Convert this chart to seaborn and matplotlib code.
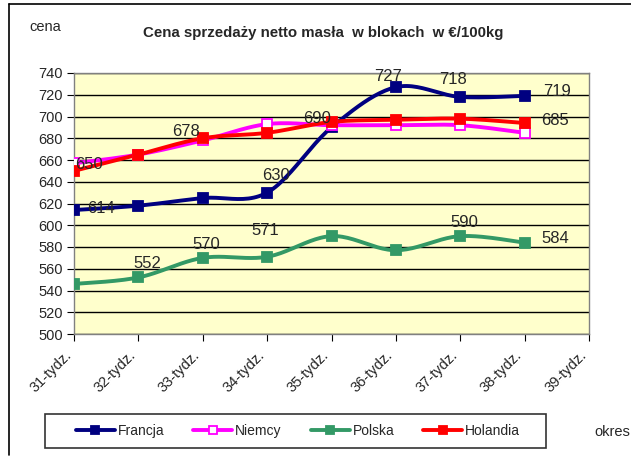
import numpy as np
import pandas as pd
import matplotlib
matplotlib.use("Agg")
import matplotlib.pyplot as plt
import seaborn as sns
from matplotlib.patches import Rectangle

weeks = ["31-tydz.", "32-tydz.", "33-tydz.", "34-tydz.", "35-tydz.",
         "36-tydz.", "37-tydz.", "38-tydz.", "39-tydz."]
francja = [614, 618, 625, 630, 690, 727, 718, 719]
niemcy = [657, 665, 678, 693, 692, 692, 692, 685]
polska = [546, 552, 570, 571, 590, 577, 590, 584]
holandia = [650, 665, 680, 685, 695, 697, 698, 694]

# value labels: index -> (dx px, dy px, ha)
lab_francja = {0: (13, 2, "left"), 3: (9, 17, "center"), 4: (-14, 9, "center"),
               5: (-8, 11, "center"), 6: (-7, 17, "center"), 7: (19, 4, "left")}
lab_niemcy = {2: (-17, 9, "center"), 7: (17, 12, "left")}
lab_polska = {1: (9, 14, "center"), 2: (4, 13, "center"), 3: (-2, 26, "center"),
              6: (4, 14, "center"), 7: (17, 4, "left")}
lab_holandia = {0: (1, 6, "left")}

series = [
    ("Francja", francja, "#000080", "#000080", lab_francja),
    ("Niemcy", niemcy, "#FF00FF", "#FFFFFF", lab_niemcy),
    ("Polska", polska, "#339966", "#339966", lab_polska),
    ("Holandia", holandia, "#FF0000", "#FF0000", lab_holandia),
]


def smooth(xs, ys, n=24):
    # Catmull-Rom path through the points, like Excel's smoothed line
    xs = np.asarray(xs, float)
    ys = np.asarray(ys, float)
    px, py = [], []
    m = len(xs)
    for i in range(m - 1):
        i0, i3 = max(i - 1, 0), min(i + 2, m - 1)
        t = np.linspace(0, 1, n, endpoint=(i == m - 2))
        for arr, out in ((xs, px), (ys, py)):
            p0, p1, p2, p3 = arr[i0], arr[i], arr[i + 1], arr[i3]
            out.extend(0.5 * ((2 * p1) + (-p0 + p2) * t
                              + (2 * p0 - 5 * p1 + 4 * p2 - p3) * t ** 2
                              + (-p0 + 3 * p1 - 3 * p2 + p3) * t ** 3))
    return np.array(px), np.array(py)


sns.set_style("white")
plt.rcParams["font.family"] = ["Liberation Sans", "DejaVu Sans"]

fig = plt.figure(figsize=(6.31, 4.57), dpi=100)
ax = fig.add_axes([74 / 631, 1 - 334 / 457, 515 / 631, 261 / 457])
ax.set_facecolor("#FFFFCC")

x = np.arange(len(francja))
handles = []
for name, vals, col, face, labs in series:
    sx, sy = smooth(x, vals)
    df = pd.DataFrame({"x": sx, "y": sy})
    sns.lineplot(data=df, x="x", y="y", ax=ax, color=col, lw=2.8,
                 sort=False, estimator=None, zorder=3)
    ax.plot(x, vals, ls="none", color=col, marker="s", ms=7,
            mfc=face, mec=col, mew=1.3, zorder=4)
    handles.append(plt.Line2D([], [], color=col, lw=2.8, marker="s", ms=6,
                              mfc=face, mec=col, mew=1.3))
    for i, (dx, dy, ha) in labs.items():
        v = vals[i]
        ax.annotate(str(v), (i, v), xytext=(dx * 0.72, dy * 0.72),
                    textcoords="offset points", ha=ha, va="center",
                    fontsize=12, zorder=6)

ax.set_xlim(0, 8)
ax.set_ylim(500, 740)
ax.set_yticks(np.arange(500, 741, 20))
ax.set_xticks(np.arange(len(weeks)))
ax.set_xticklabels(weeks, rotation=45, ha="right", va="bottom",
                   rotation_mode="anchor", fontsize=10.5)
ax.tick_params(axis="y", labelsize=10.5, length=5, color="black", direction="out",
               left=True, pad=3)
ax.tick_params(axis="x", length=5, color="black", direction="out", bottom=True, pad=12)
ax.grid(axis="y", color="black", lw=1)
ax.set_axisbelow(True)
ax.set_xlabel("")
ax.set_ylabel("")
for s in ax.spines.values():
    s.set_color("#808080")
    s.set_linewidth(1)

fig.text(323 / 631, 1 - 33 / 457, "Cena sprzedaży netto masła  w blokach  w €/100kg",
         ha="center", va="center", fontsize=10.8, fontweight="bold")
fig.text(29 / 631, 1 - 27 / 457, "cena", ha="left", va="center", fontsize=10.5)
fig.text(630 / 631, 1 - 432 / 457, "okres", ha="right", va="center", fontsize=10.5)

# legend box and entries
fig.add_artist(Rectangle((45 / 631, 1 - 448 / 457), 501 / 631, 34 / 457,
                         transform=fig.transFigure, fill=False,
                         edgecolor="#333333", lw=1.2))
leg = fig.legend(handles, [s[0] for s in series], ncol=4, loc="center left",
                 bbox_to_anchor=(76 / 631, 1 - 431 / 457), frameon=False,
                 fontsize=10, handlelength=2.8, handletextpad=0.2,
                 columnspacing=2.1, borderpad=0, borderaxespad=0)

# outer chart frame (left and top edges)
fig.add_artist(plt.Line2D([8.5 / 631, 8.5 / 631], [1 - 455 / 457, 1 - 3.5 / 457],
                          color="black", lw=1.2, transform=fig.transFigure))
fig.add_artist(plt.Line2D([8.5 / 631, 1], [1 - 3.5 / 457, 1 - 3.5 / 457],
                          color="black", lw=1.2, transform=fig.transFigure))

fig.savefig("out.png", dpi=100)
